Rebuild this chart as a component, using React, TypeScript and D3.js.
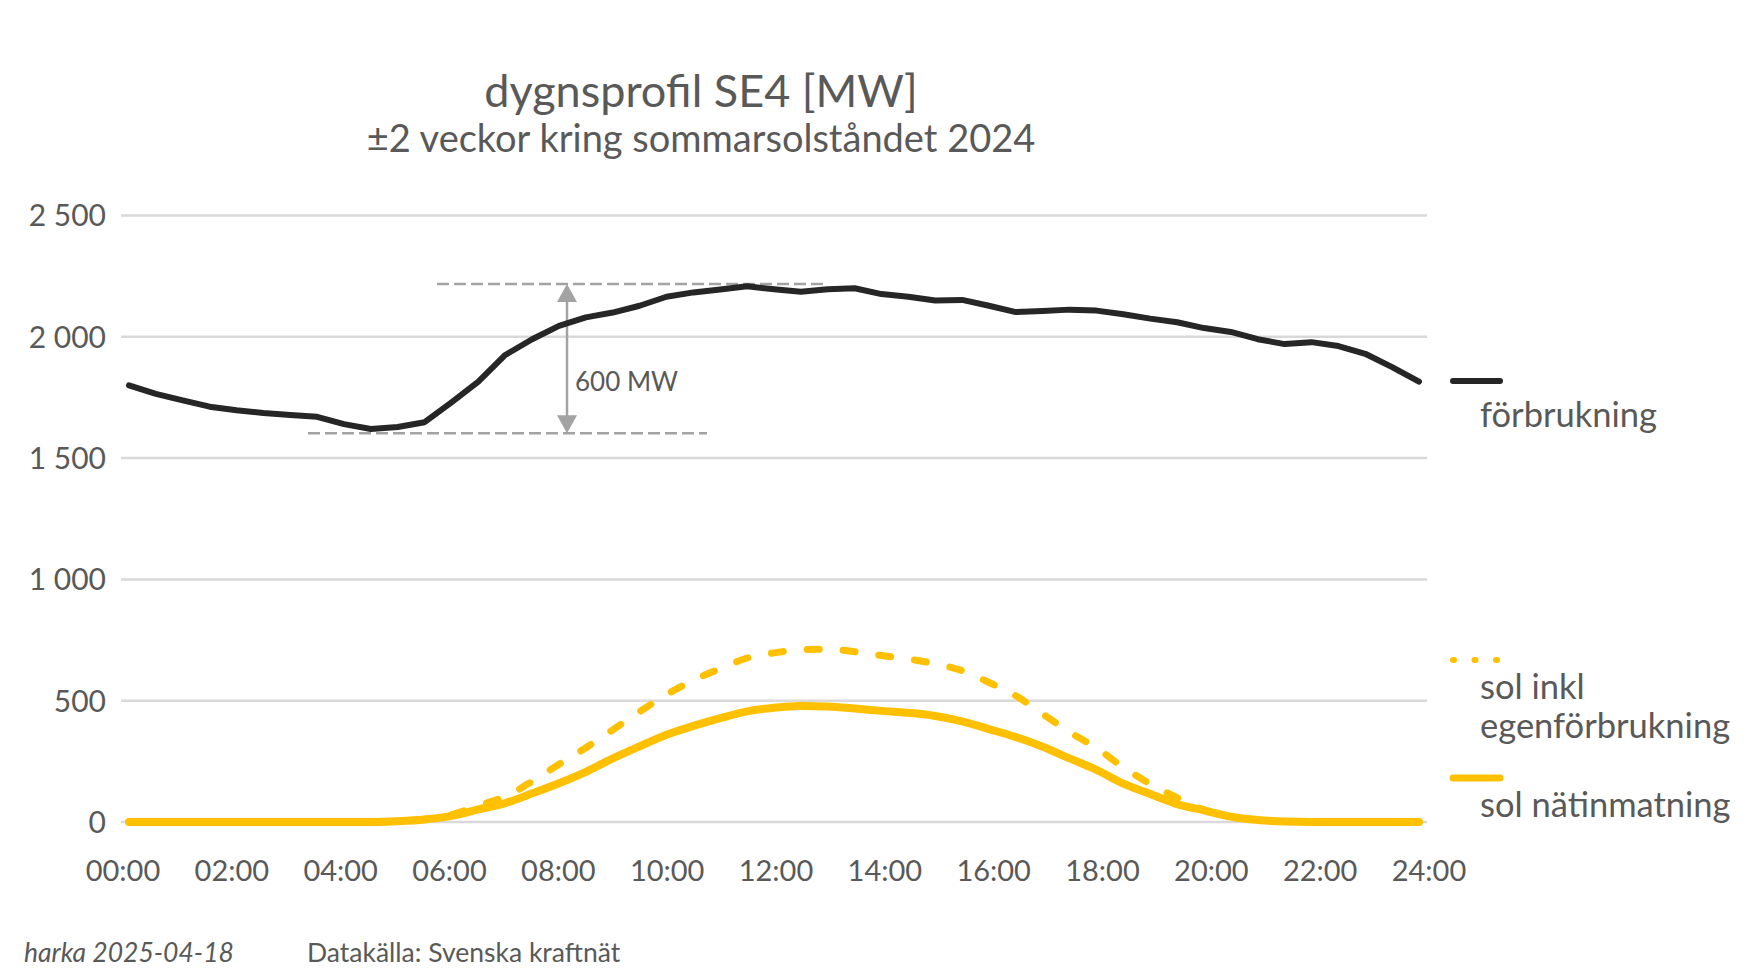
import React, { useRef, useEffect } from "react";
import * as d3 from "d3";

const ChartConfig = {
  width: 1750,
  height: 970,
  left: 121,
  right: 1427,
  top: 215.5,
  bottom: 822,
  dataLeft: 129,
  dataRight: 1419,
};

const font = "Lato, 'Noto Sans', sans-serif";
const textColor = "#595959";
const gridColor = "#d9d9d9";
const blackColor = "#262626";
const sunColor = "#ffc000";
const noteColor = "#a3a3a3";

// timmar, halvtimmesupplösning
const hours = [
  0, 0.5, 1, 1.5, 2, 2.5, 3, 3.5, 4, 4.5, 5, 5.5, 6, 6.5, 7, 7.5, 8, 8.5, 9,
  9.5, 10, 10.5, 11, 11.5, 12, 12.5, 13, 13.5, 14, 14.5, 15, 15.5, 16, 16.5,
  17, 17.5, 18, 18.5, 19, 19.5, 20, 20.5, 21, 21.5, 22, 22.5, 23, 23.5, 24,
];

const forbrukning = [
  1800, 1765, 1738, 1712, 1697, 1686, 1678, 1670, 1640, 1620, 1628, 1648, 1730,
  1815, 1925, 1990, 2045, 2080, 2100, 2128, 2165, 2183, 2195, 2208, 2196, 2186,
  2196, 2200, 2176, 2165, 2150, 2152, 2128, 2102, 2106, 2112, 2108, 2093, 2075,
  2060, 2036, 2020, 1990, 1970, 1978, 1962, 1930, 1875, 1815,
];

const solInkl = [
  0, 0, 0, 0, 0, 0, 0, 0, 0, 0, 3, 11, 30, 68, 105, 167, 238, 306, 380, 455,
  525, 585, 632, 676, 697, 710, 712, 702, 686, 672, 652, 624, 575, 520, 445,
  370, 305, 225, 157, 100, 50, 20, 8, 2, 0, 0, 0, 0, 0,
];

const solNat = [
  0, 0, 0, 0, 0, 0, 0, 0, 0, 0, 3, 10, 25, 52, 78, 118, 160, 207, 262, 312,
  360, 396, 428, 456, 471, 478, 476, 468, 458, 450, 437, 415, 383, 350, 310,
  262, 215, 158, 115, 74, 48, 22, 8, 2, 0, 0, 0, 0, 0,
];

const xTicks = [0, 2, 4, 6, 8, 10, 12, 14, 16, 18, 20, 22, 24];
const xTickLabels = [
  "00:00", "02:00", "04:00", "06:00", "08:00", "10:00", "12:00",
  "14:00", "16:00", "18:00", "20:00", "22:00", "24:00",
];
const yTicks = [0, 500, 1000, 1500, 2000, 2500];
const yTickLabels = ["0", "500", "1 000", "1 500", "2 000", "2 500"];

// 600 MW-pilen: min och max
const spanLow = 1602;
const spanHigh = 2218;

const App = () => {
  const ref = useRef<SVGSVGElement>(null);

  useEffect(() => {
    const svg = d3
      .select(ref.current)
      .attr("width", ChartConfig.width)
      .attr("height", ChartConfig.height);
    svg.selectAll("*").remove();

    const x = d3
      .scaleLinear()
      .domain([0, 24])
      .range([ChartConfig.dataLeft, ChartConfig.dataRight]);
    // etiketterna sitter på kategorigränserna, inte på punkterna
    const xLabel = d3
      .scaleLinear()
      .domain([0, 24])
      .range([ChartConfig.left + 2, ChartConfig.right + 2]);
    const y = d3
      .scaleLinear()
      .domain([0, 2500])
      .range([ChartConfig.bottom, ChartConfig.top]);

    // titel
    svg
      .append("text")
      .attr("x", 701)
      .attr("y", 107)
      .attr("text-anchor", "middle")
      .attr("font-family", font)
      .attr("font-size", 45)
      .attr("fill", textColor)
      .text("dygnsprofil SE4 [MW]");
    svg
      .append("text")
      .attr("x", 701)
      .attr("y", 152)
      .attr("text-anchor", "middle")
      .attr("font-family", font)
      .attr("font-size", 38)
      .attr("fill", textColor)
      .text("±2 veckor kring sommarsolståndet 2024");

    // rutnät
    svg
      .append("g")
      .selectAll("line")
      .data(yTicks)
      .enter()
      .append("line")
      .attr("x1", ChartConfig.left)
      .attr("x2", ChartConfig.right)
      .attr("y1", (d) => y(d))
      .attr("y2", (d) => y(d))
      .attr("stroke", gridColor)
      .attr("stroke-width", 2.5);

    svg
      .append("g")
      .selectAll("text")
      .data(yTicks)
      .enter()
      .append("text")
      .attr("x", 106)
      .attr("y", (d) => y(d))
      .attr("dy", "0.36em")
      .attr("text-anchor", "end")
      .attr("font-family", font)
      .attr("font-size", 30)
      .attr("fill", textColor)
      .text((d, i) => yTickLabels[i]);

    svg
      .append("g")
      .selectAll("text")
      .data(xTicks)
      .enter()
      .append("text")
      .attr("x", (d) => xLabel(d))
      .attr("y", 881)
      .attr("text-anchor", "middle")
      .attr("font-family", font)
      .attr("font-size", 29)
      .attr("fill", textColor)
      .text((d, i) => xTickLabels[i]);

    // 600 MW annotering
    const note = svg.append("g");
    note
      .append("line")
      .attr("x1", 437)
      .attr("x2", 825)
      .attr("y1", y(spanHigh))
      .attr("y2", y(spanHigh))
      .attr("stroke", noteColor)
      .attr("stroke-width", 2.5)
      .attr("stroke-dasharray", "12 5");
    note
      .append("line")
      .attr("x1", 308)
      .attr("x2", 707)
      .attr("y1", y(spanLow))
      .attr("y2", y(spanLow))
      .attr("stroke", noteColor)
      .attr("stroke-width", 2.5)
      .attr("stroke-dasharray", "12 5");
    const ax = 567;
    note
      .append("line")
      .attr("x1", ax)
      .attr("x2", ax)
      .attr("y1", y(spanHigh) + 15)
      .attr("y2", y(spanLow) - 15)
      .attr("stroke", noteColor)
      .attr("stroke-width", 2.5);
    note
      .append("path")
      .attr(
        "d",
        `M${ax},${y(spanHigh)} L${ax - 10},${y(spanHigh) + 18} L${ax + 10},${y(spanHigh) + 18} Z`
      )
      .attr("fill", noteColor);
    note
      .append("path")
      .attr(
        "d",
        `M${ax},${y(spanLow)} L${ax - 10},${y(spanLow) - 18} L${ax + 10},${y(spanLow) - 18} Z`
      )
      .attr("fill", noteColor);
    note
      .append("text")
      .attr("x", 575)
      .attr("y", 391)
      .attr("font-family", font)
      .attr("font-size", 26)
      .attr("fill", textColor)
      .text("600 MW");

    // linjer
    const lineFor = (values: number[], curve: any) =>
      d3
        .line<number>()
        .x((d, i) => x(hours[i]))
        .y((d) => y(d))
        .curve(curve)(values);

    svg
      .append("path")
      .attr("d", lineFor(solInkl, d3.curveMonotoneX) as string)
      .attr("fill", "none")
      .attr("stroke", sunColor)
      .attr("stroke-width", 7)
      .attr("stroke-linecap", "round")
      .attr("stroke-dasharray", "12 24");

    svg
      .append("path")
      .attr("d", lineFor(solNat, d3.curveMonotoneX) as string)
      .attr("fill", "none")
      .attr("stroke", sunColor)
      .attr("stroke-width", 8)
      .attr("stroke-linecap", "round")
      .attr("stroke-linejoin", "round");

    svg
      .append("path")
      .attr("d", lineFor(forbrukning, d3.curveLinear) as string)
      .attr("fill", "none")
      .attr("stroke", blackColor)
      .attr("stroke-width", 6)
      .attr("stroke-linecap", "round")
      .attr("stroke-linejoin", "round");

    // legend
    const legend = svg.append("g");
    const legendItems = [
      { y: 381, color: blackColor, width: 6, dash: null },
      { y: 660, color: sunColor, width: 6, dash: "1 20.5" },
      { y: 778, color: sunColor, width: 7, dash: null },
    ];
    legendItems.forEach((item) => {
      const l = legend
        .append("line")
        .attr("x1", 1453)
        .attr("x2", 1500)
        .attr("y1", item.y)
        .attr("y2", item.y)
        .attr("stroke", item.color)
        .attr("stroke-width", item.width)
        .attr("stroke-linecap", "round");
      if (item.dash) l.attr("stroke-dasharray", item.dash);
    });
    const legendTexts = [
      { y: 427, text: "förbrukning" },
      { y: 699, text: "sol inkl" },
      { y: 738, text: "egenförbrukning" },
      { y: 817, text: "sol nätinmatning" },
    ];
    legend
      .selectAll("text")
      .data(legendTexts)
      .enter()
      .append("text")
      .attr("x", 1480)
      .attr("y", (d) => d.y)
      .attr("font-family", font)
      .attr("font-size", 34.5)
      .attr("fill", textColor)
      .text((d) => d.text);

    // fotnot
    svg
      .append("text")
      .attr("x", 24)
      .attr("y", 962)
      .attr("font-family", font)
      .attr("font-style", "italic")
      .attr("font-size", 26.5)
      .attr("fill", textColor)
      .text("harka 2025-04-18");
    svg
      .append("text")
      .attr("x", 307)
      .attr("y", 962)
      .attr("font-family", font)
      .attr("font-size", 26.5)
      .attr("fill", textColor)
      .text("Datakälla: Svenska kraftnät");
  }, []);

  return (
    <svg
      ref={ref}
      style={{ position: "absolute", left: 0, top: 0, background: "#fff" }}
    ></svg>
  );
};

export default App;
